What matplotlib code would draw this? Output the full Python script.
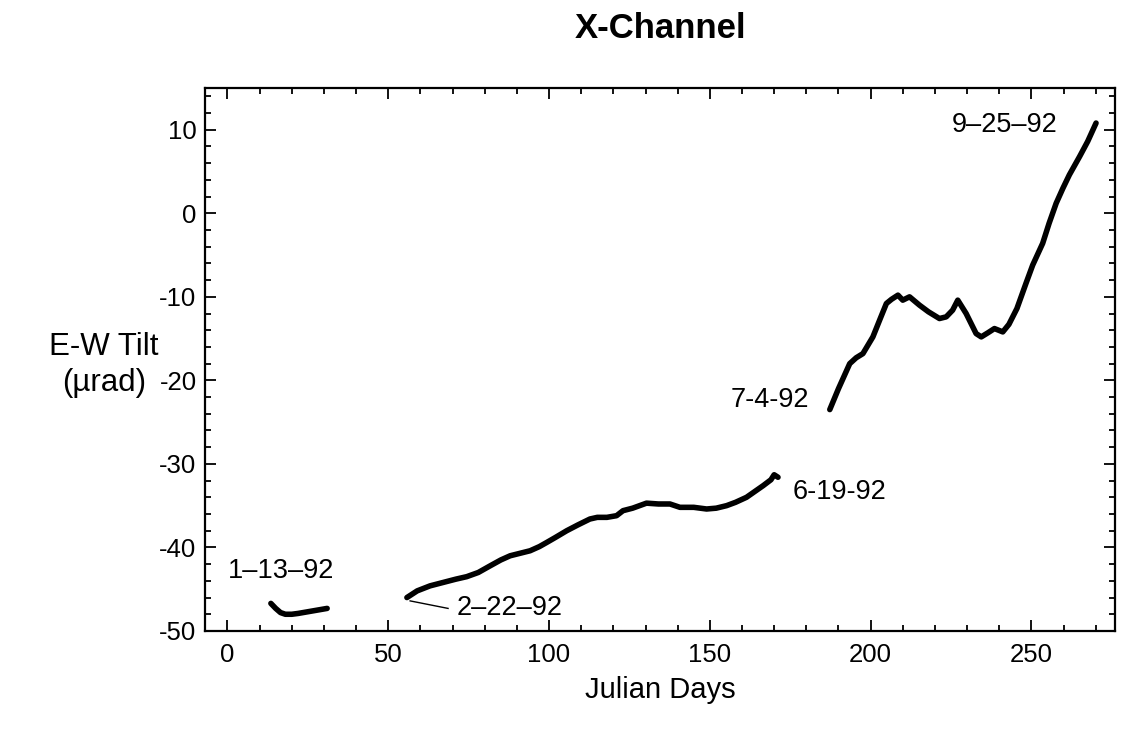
import matplotlib
matplotlib.use("Agg")
import matplotlib.pyplot as plt
from matplotlib.ticker import MultipleLocator

plt.rcParams['font.family'] = ['Liberation Sans', 'DejaVu Sans']
plt.rcParams['axes.unicode_minus'] = False

# Tilt record, E-W component, in three recording intervals
days_jan = [13.5, 15, 16.5, 18, 20, 22, 25, 28, 31]
tilt_jan = [-46.7, -47.3, -47.8, -48.0, -48.0, -47.9, -47.7, -47.5, -47.3]

days_feb = [55.8, 59, 63, 67, 71, 74.4, 78, 81.7, 85, 87.9, 91, 94.1, 97, 99.3,
            102, 105.5, 109, 112.7, 115, 118, 121, 123, 126, 130.3, 134, 137.6,
            140.7, 145, 149, 152, 155.2, 158, 161.4, 164, 166.6, 169, 170, 171.2]
tilt_feb = [-46.0, -45.2, -44.6, -44.2, -43.8, -43.5, -43.0, -42.2, -41.5, -41.0,
            -40.7, -40.4, -39.9, -39.4, -38.8, -38.0, -37.3, -36.6, -36.4, -36.4,
            -36.2, -35.6, -35.3, -34.7, -34.8, -34.8, -35.2, -35.2, -35.4, -35.3,
            -35.0, -34.6, -34.0, -33.3, -32.6, -31.9, -31.3, -31.6]

days_jul = [187.3, 190, 193.5, 195.5, 197.6, 200.7, 203, 204.9, 206.5, 208.5,
            210, 212.1, 215.2, 218, 221.4, 223.5, 225.5, 227.1, 229.7, 232.8,
            234.4, 236.5, 238.5, 241.1, 243, 245.5, 248.3, 250.4, 253.5, 255.5,
            257.7, 259.8, 261.8, 265, 267.5, 270.1]
tilt_jul = [-23.5, -21.0, -18.0, -17.3, -16.8, -14.8, -12.6, -10.8, -10.3, -9.8,
            -10.4, -10.0, -11.0, -11.8, -12.6, -12.4, -11.6, -10.4, -12.0, -14.4,
            -14.8, -14.3, -13.8, -14.2, -13.3, -11.4, -8.4, -6.2, -3.6, -1.2,
            1.2, 3.0, 4.6, 6.8, 8.6, 10.8]

fig = plt.figure(figsize=(11.23, 7.33), dpi=100)
ax = fig.add_axes([0.1825, 0.1392, 0.8104, 0.7408])

for xs, ys in [(days_jan, tilt_jan), (days_feb, tilt_feb), (days_jul, tilt_jul)]:
    ax.plot(xs, ys, color='black', linewidth=4.0,
            solid_capstyle='round', solid_joinstyle='round')

ax.set_xlim(-7, 276)
ax.set_ylim(-50, 15)
ax.xaxis.set_major_locator(MultipleLocator(50))
ax.xaxis.set_minor_locator(MultipleLocator(10))
ax.yaxis.set_major_locator(MultipleLocator(10))
ax.yaxis.set_minor_locator(MultipleLocator(2))
ax.tick_params(which='both', direction='in', top=True, right=True,
               width=1.3, labelsize=18.5)
ax.tick_params(axis='x', pad=9)
ax.tick_params(axis='y', pad=6)
ax.tick_params(which='major', length=8)
ax.tick_params(which='minor', length=4)
for s in ax.spines.values():
    s.set_linewidth(1.6)

lbl = dict(fontsize=19.5, color='black')
ax.text(16.8, -42.8, '1\u201313\u201392', ha='center', va='center', **lbl)
ax.text(71.4, -47.3, '2\u201322\u201392', ha='left', va='center', **lbl)
ax.plot([56.8, 68.6], [-46.4, -47.3], color='black', linewidth=1.0)
ax.text(175.8, -33.4, '6-19-92', ha='left', va='center', **lbl)
ax.text(181.0, -22.4, '7-4-92', ha='right', va='center', **lbl)
ax.text(225.2, 10.6, '9\u201325\u201392', ha='left', va='center', **lbl)

fig.text(0.5878, 0.961, 'X-Channel', ha='center', va='center',
         fontsize=25, fontweight='bold')
fig.text(0.5878, 0.058, 'Julian Days', ha='center', va='center', fontsize=21)
fig.text(0.0925, 0.502, 'E-W Tilt\n(\u00b5rad)', ha='center', va='center',
         fontsize=22.5, linespacing=1.3)

fig.savefig('out.png', dpi=100)
